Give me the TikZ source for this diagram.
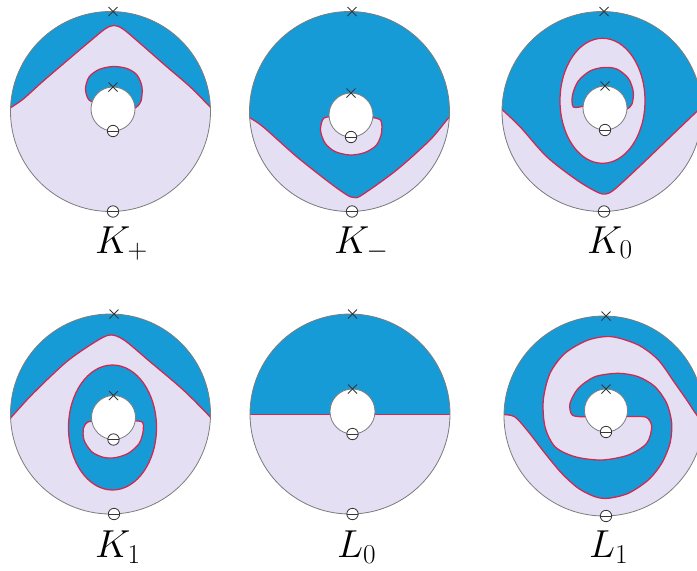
\RequirePackage{fix-cm}
\documentclass[tikz,border=0pt]{standalone}
\definecolor{bl}{RGB}{22,155,215}
\definecolor{lv}{RGB}{228,223,242}
\definecolor{rd}{RGB}{210,40,80}
\definecolor{gr}{RGB}{125,125,125}
\definecolor{mk}{RGB}{55,55,55}
\tikzset{
 rim/.style={draw=gr, line width=0.8pt},
 redc/.style={draw=rd, line width=1.25pt},
 holest/.style={fill=white, draw=gr, line width=0.8pt},
 markst/.style={draw=mk, line width=0.8pt},
 crs/.pic={\draw[markst] (-4.5,-4.5) -- (4.5,4.5) (-4.5,4.5) -- (4.5,-4.5);},
 omn/.pic={\draw[markst, fill=white] (0,0) circle (5.7); \draw[markst] (-5.7,0) -- (5.7,0);},
 lab/.style={anchor=base west, font=\fontsize{39}{44}\selectfont, inner sep=0pt},
}
\begin{document}
\begin{tikzpicture}[x=1pt,y=-1pt]
\useasboundingbox (0,0) rectangle (697,571);

% ---------- K+ ----------
\fill[lv] (110.5,111.5) circle (100);
\begin{scope}
\clip (110.5,111.5) circle (100);
\path[fill=bl, redc] plot[smooth] coordinates {(2,116) (10,108.3) (23.3,99) (43.3,81) (66.7,61) (86.7,44) (105,29) (114,25.5) (123,29) (140,43.3) (166.7,66.7) (190,86.7) (210,106.7) (218,114)} -- (218,0) -- (2,0) -- cycle;
\end{scope}
\path[fill=bl, redc] plot[smooth] coordinates {(100,104) (89,100) (85.5,89) (89,77) (99,69.5) (113,66.5) (127,68.5) (137,75) (142,87) (141,101) (135,108) (125,109)} -- cycle;
\draw[rim] (110.5,111.5) circle (100);
\draw[holest] (113,109) circle (22);
\pic at (113,11.5) {crs}; \pic at (113,87) {crs};
\pic at (113,131) {omn}; \pic at (113,211.5) {omn};
\node[lab] (kp) at (95,253) {$K_+$};

% ---------- K- ----------
\fill[bl] (349.5,111.5) circle (100);
\begin{scope}
\clip (349.5,111.5) circle (100);
\path[fill=lv, redc] plot[smooth] coordinates {(240,110) (248.3,116.7) (263.3,127) (296.7,156.7) (330,183) (347,195) (354,197.5) (362,195) (396.7,170) (430,140) (448.3,118.3) (458,110)} -- (460,230) -- (240,230) -- cycle;
\end{scope}
\path[fill=lv, redc] plot[smooth] coordinates {(337,117) (324,118) (320.5,130) (325,143) (335,151.5) (350,155) (365,152.5) (376.5,145) (381.5,133) (380.5,120) (368,117)} -- cycle;
\draw[rim] (349.5,111.5) circle (100);
\draw[holest] (351,115) circle (22);
\pic at (352,11.5) {crs}; \pic at (351,93) {crs};
\pic at (351,137) {omn}; \pic at (352,211.5) {omn};
\node[lab] (km) at (334,253) {$K_-$};

% ---------- K0 ----------
\fill[bl] (602,111.5) circle (100);
\begin{scope}
\clip (602,111.5) circle (100);
\path[fill=lv, redc] plot[smooth] coordinates {(492,100) (500.7,108.3) (520,126.7) (546.7,156.7) (576.7,180) (597,192) (606,194) (615,189) (640,166) (665,142) (690,118) (710,99)} -- (712,230) -- (490,230) -- cycle;
\path[fill=lv, redc] (602.5,100.8) ellipse (42.5 and 62.5);
\end{scope}
\path[fill=bl, redc] plot[smooth] coordinates {(584,106) (573.3,107) (572.5,95) (578.3,81) (590,71) (603.3,67.5) (616.7,69) (628.3,78.3) (633.3,91.7) (632,104) (627,109) (620,109)} -- cycle;
\draw[rim] (602,111.5) circle (100);
\draw[holest] (605,108) circle (22);
\pic at (604,11.5) {crs}; \pic at (605,86) {crs};
\pic at (605,130) {omn}; \pic at (604,211.5) {omn};
\node[lab] (k0) at (587,253) {$K_0$};

% ---------- K1 ----------
\fill[lv] (110.5,414) circle (100);
\begin{scope}
\clip (110.5,414) circle (100);
\path[fill=bl, redc] plot[smooth] coordinates {(3,426) (11.7,416.7) (33.3,393.3) (66.7,361.7) (95,342) (110,335) (124,340) (150,361.7) (183.3,390) (210,416.7) (218,426)} -- (218,300) -- (3,300) -- cycle;
\path[fill=bl, redc] (112.5,427.5) ellipse (44 and 62.5);
\end{scope}
\path[fill=lv, redc] plot[smooth] coordinates {(99,422) (88.3,421.7) (83.5,428) (84,440) (91.7,451.7) (103.3,457.3) (115,457.7) (128.3,453.3) (139.3,443.3) (143.3,430) (141.7,421.7) (128,421)} -- cycle;
\draw[rim] (110.5,414) circle (100);
\draw[holest] (113.5,417.5) circle (22);
\pic at (114,314) {crs}; \pic at (113.5,395.5) {crs};
\pic at (113.5,439.5) {omn}; \pic at (114,514) {omn};
\node[lab] (k1) at (95,557.5) {$K_1$};

% ---------- L0 ----------
\fill[bl] (350,414) circle (100);
\begin{scope}
\clip (350,414) circle (100);
\fill[lv] (240,414.3) rectangle (460,530);
\draw[redc] (245,414.3) -- (455,414.3);
\end{scope}
\draw[rim] (350,414) circle (100);
\draw[holest] (352.5,411.5) circle (22.5);
\pic at (352.5,314) {crs}; \pic at (352.5,389) {crs};
\pic at (352.5,434) {omn}; \pic at (352.5,514) {omn};
\node[lab] (l0) at (337,557.5) {$L_0$};

% ---------- L1 ----------
\fill[lv] (604,416) circle (100);
\begin{scope}
\clip (604,416) circle (100);
\path[fill=bl, redc] (720,300) -- (720,432) -- plot[smooth] coordinates {(708,430) (696.7,415) (686.7,400) (675,383.3) (658.3,360) (638.3,345) (611.7,336.7) (588.3,340) (565,353.3) (550,373.3) (543.3,400) (545,426.7) (555,446.7) (575,456.7) (601.7,460) (628.3,455) (646.7,443.3) (651.7,426.7) (646.7,417.5) (635,416.5) (618,416.5)}
 -- plot[smooth] coordinates {(592,416.7) (580,416.7) (571.7,414.5) (570,403.3) (578.3,388.3) (595,376.7) (618.3,373.3) (638.3,376.7) (655,386.7) (666.7,403.3) (671.7,423.3) (670,443.3) (661.7,463.3) (648.3,480) (628.3,493.3) (608.3,498.3) (595,496.7) (578.3,488.3) (561.7,473.3) (545,453.3) (528.3,431.7) (515,417) (503.3,414.5) (494,414)} -- (490,410) -- (490,300) -- cycle;
\end{scope}
\draw[rim] (604,416) circle (100);
\draw[holest] (606,410.5) circle (21.5);
\pic at (606,316) {crs}; \pic at (606,389) {crs};
\pic at (606,432) {omn}; \pic at (606,516) {omn};
\node[lab] (l1) at (589,557.5) {$L_1$};

\end{tikzpicture}
\end{document}
